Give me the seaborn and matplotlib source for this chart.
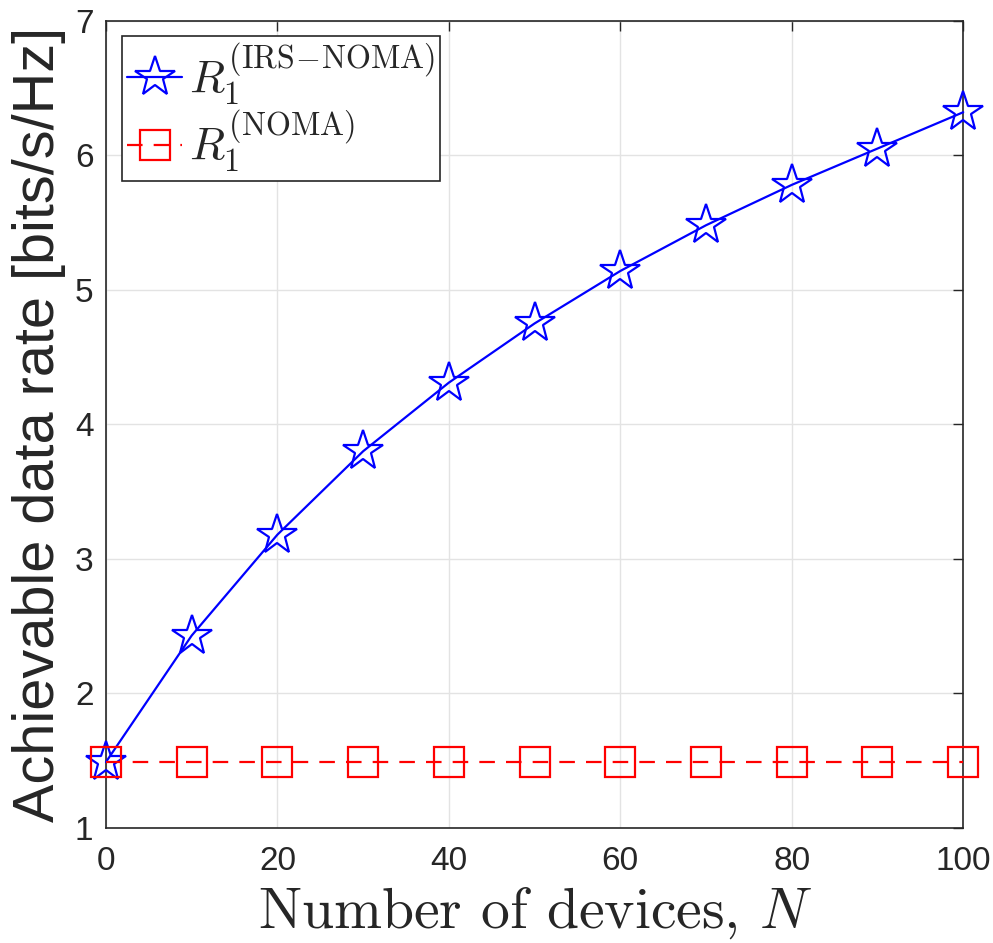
import matplotlib
matplotlib.use("Agg")
import matplotlib.pyplot as plt
import seaborn as sns
import pandas as pd

# Data
N_devices = [0, 10, 20, 30, 40, 50, 60, 70, 80, 90, 100]
rate_irs_noma = [1.49, 2.43, 3.18, 3.80, 4.31, 4.75, 5.14, 5.48, 5.78, 6.05, 6.32]
rate_noma = [1.49, 1.49, 1.49, 1.49, 1.49, 1.49, 1.49, 1.49, 1.49, 1.49, 1.49]
label_irs = r"$R_1^{(\mathrm{IRS\!-\!NOMA})}$"
label_noma = r"$R_1^{(\mathrm{NOMA})}$"
x_ticks = [0, 20, 40, 60, 80, 100]
y_ticks = [1, 2, 3, 4, 5, 6, 7]

sns.set_style("white")
plt.rcParams['font.family'] = ['Liberation Sans', 'DejaVu Sans']
plt.rcParams['mathtext.fontset'] = 'cm'

fig = plt.figure(figsize=(9.93, 9.43), dpi=100)
ax = fig.add_axes([0.1067, 0.122, 0.8633, 0.856])

df1 = pd.DataFrame({"N": N_devices, "R": rate_irs_noma})
df2 = pd.DataFrame({"N": N_devices, "R": rate_noma})

sns.lineplot(data=df1, x="N", y="R", ax=ax, color=(0, 0, 1), lw=1.6,
             marker="*", markersize=30, markerfacecolor="none",
             markeredgecolor=(0, 0, 1), markeredgewidth=1.6, label=label_irs,
             zorder=3, clip_on=False)
sns.lineplot(data=df2, x="N", y="R", ax=ax, color=(1, 0, 0), lw=1.6,
             marker="s", markersize=21, markerfacecolor="none",
             markeredgecolor=(1, 0, 0), markeredgewidth=1.6, label=label_noma,
             dashes=False, linestyle=(0, (7, 5)), zorder=3, clip_on=False)

ax.set_xlim(0, 100)
ax.set_ylim(1, 7)
ax.set_xticks(x_ticks)
ax.set_yticks(y_ticks)
ax.grid(True, color="#e3e3e3", lw=1.0, zorder=0)
ax.set_axisbelow(True)
for s in ax.spines.values():
    s.set_color("#262626")
    s.set_linewidth(1.2)
    s.set_visible(True)
ax.tick_params(direction="in", length=7, width=1.0, color="#262626",
               top=True, right=True, labelsize=24, labelcolor="#262626")
ax.tick_params(axis="x", pad=13)
ax.tick_params(axis="y", pad=9)

ax.set_xlabel(r"Number of devices, $N$", fontsize=41.5, family="cmr10",
              color="#262626", labelpad=6)
ax.set_ylabel("Achievable data rate [bits/s/Hz]", fontsize=41.5, color="#262626", labelpad=6)

leg = ax.legend(loc="upper left", fontsize=33, frameon=True, fancybox=False,
                edgecolor="#262626", framealpha=1, borderpad=0.12, handlelength=1.2,
                handletextpad=0.15, labelspacing=0.02, borderaxespad=0.34)
leg.get_frame().set_linewidth(1.2)

fig.savefig("out.png", dpi=100)
